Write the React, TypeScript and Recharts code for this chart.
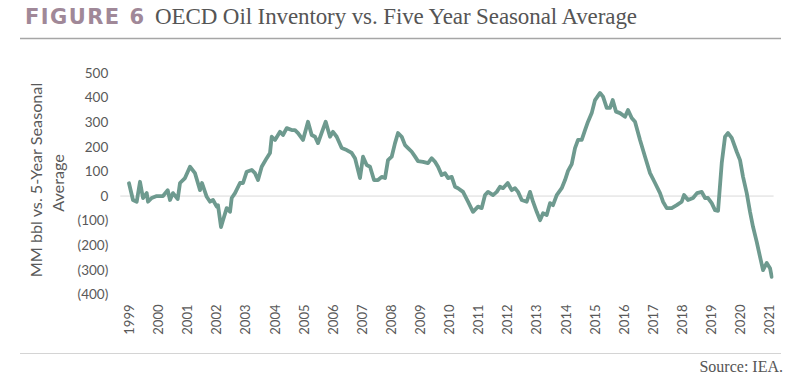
import React from "react";
import { LineChart, Line, XAxis, YAxis, ReferenceLine } from "recharts";

// Decimal-year dates of the readings
const dates: number[] = [
  1999.0, 1999.137, 1999.265, 1999.378, 1999.481, 1999.608, 1999.653, 1999.78, 1999.952,
  2000.168, 2000.33, 2000.409, 2000.512, 2000.674, 2000.753, 2000.924,
  2001.096, 2001.268, 2001.44, 2001.509, 2001.67, 2001.784, 2001.887,
  2002.014, 2002.058, 2002.162, 2002.23, 2002.357, 2002.471, 2002.529, 2002.643, 2002.814, 2002.918,
  2003.045, 2003.216, 2003.33, 2003.433, 2003.56, 2003.732, 2003.845, 2003.904,
  2004.017, 2004.189, 2004.292, 2004.419, 2004.591, 2004.704, 2004.808, 2004.979,
  2005.151, 2005.278, 2005.392, 2005.495, 2005.632, 2005.759, 2005.907,
  2006.01, 2006.137, 2006.309, 2006.481, 2006.653, 2006.766, 2006.938,
  2007.041, 2007.168, 2007.282, 2007.419, 2007.557, 2007.684, 2007.797, 2007.9,
  2008.027, 2008.141, 2008.244, 2008.371, 2008.485, 2008.588, 2008.715, 2008.83, 2008.931,
  2009.103, 2009.275, 2009.402, 2009.515, 2009.619, 2009.746, 2009.859, 2009.962,
  2010.089, 2010.203, 2010.306, 2010.478, 2010.649, 2010.821, 2010.993,
  2011.12, 2011.234, 2011.337, 2011.509, 2011.636, 2011.749, 2011.852,
  2012.014, 2012.151, 2012.265, 2012.368, 2012.495, 2012.667, 2012.78, 2012.883,
  2013.01, 2013.124, 2013.227, 2013.354, 2013.467, 2013.57, 2013.698, 2013.869, 2013.983,
  2014.086, 2014.213, 2014.326, 2014.43, 2014.557, 2014.67, 2014.773, 2014.9,
  2015.014, 2015.186, 2015.289, 2015.416, 2015.529, 2015.622, 2015.735, 2015.873,
  2016.045, 2016.148, 2016.275, 2016.388, 2016.56, 2016.732, 2016.904,
  2017.076, 2017.247, 2017.351, 2017.478, 2017.649, 2017.821, 2017.993,
  2018.072, 2018.21, 2018.381, 2018.519, 2018.68, 2018.794, 2018.897,
  2019.024, 2019.137, 2019.241, 2019.368, 2019.481, 2019.584, 2019.711, 2019.883, 2019.997,
  2020.1, 2020.227, 2020.34, 2020.443, 2020.57, 2020.684, 2020.787, 2020.914,
  2021.027, 2021.086,
];

// MM bbl vs. 5-year seasonal average
const inventoryVsAvg: number[] = [
  52, -16, -23, 58, -8, 12, -23, -8, 0,
  0, 24, -16, 12, -12, 53, 73,
  119, 93, 24, 53, -3, -23, -16,
  -43, -37, -126, -98, -49, -64, -8, 12, 53, 53,
  99, 106, 93, 65, 119, 154, 175, 241,
  228, 261, 248, 276, 268, 268, 256, 228,
  302, 248, 241, 215, 261, 302, 241,
  261, 241, 195, 187, 175, 154, 73,
  160, 126, 119, 65, 65, 78, 73, 146,
  160, 215, 256, 241, 207, 195, 180, 160, 142,
  139, 134, 154, 139, 119, 85, 93, 73,
  78, 38, 32, 17, -23, -64, -43,
  -49, 4, 17, 4, 17, 38, 32,
  53, 24, 32, 17, -16, -23, 17, -23,
  -64, -98, -70, -77, -29, -37, 4, 32, 65,
  102, 130, 195, 228, 228, 268, 302, 337,
  390, 419, 404, 358, 358, 390, 343, 337,
  322, 350, 317, 302, 228, 160, 93,
  53, 12, -23, -49, -49, -37, -23,
  4, -16, -8, 12, 17, -8, -8,
  -29, -57, -60, 134, 241, 256, 236, 180, 146,
  78, 12, -64, -125, -186, -247, -301, -272,
  -293, -328,
];

const yearTicks: number[] = [
  1999, 2000, 2001, 2002, 2003, 2004, 2005, 2006, 2007, 2008, 2009, 2010,
  2011, 2012, 2013, 2014, 2015, 2016, 2017, 2018, 2019, 2020, 2021,
];
const valueTicks: number[] = [-400, -300, -200, -100, 0, 100, 200, 300, 400, 500];

const data = dates.map((t, i) => ({ t, v: inventoryVsAvg[i] }));

const fmtY = (v: number) => (v < 0 ? `(${-v})` : `${v}`);

const XTick = (props: any) => {
  const { x, y, payload } = props;
  return (
    <text
      x={x}
      y={y}
      transform={`rotate(-90 ${x} ${y})`}
      textAnchor="end"
      dominantBaseline="central"
      fill="#595959"
      fontSize={13}
      fontFamily="Lato, 'Open Sans', sans-serif"
    >
      {payload.value}
    </text>
  );
};

export default function App() {
  return (
    <div style={{ position: "absolute", left: 0, top: 0, width: 798, height: 382, background: "#fff" }}>
      <LineChart
        width={798}
        height={382}
        data={data}
        margin={{ top: 73, right: 24.4, bottom: 47.5, left: 20 }}
      >
        <XAxis
          dataKey="t"
          type="number"
          domain={[1998.7, 2021.15]}
          ticks={yearTicks}
          allowDataOverflow
          axisLine={false}
          tickLine={false}
          tickSize={6}
          tickMargin={4}
          height={40}
          tick={<XTick />}
          interval={0}
        />
        <YAxis
          type="number"
          domain={[-400, 500]}
          ticks={valueTicks}
          allowDataOverflow
          axisLine={false}
          tickLine={false}
          tickSize={6}
          tickMargin={6}
          width={100.27}
          interval={0}
          tickFormatter={fmtY}
          tick={{ fill: "#595959", fontSize: 13.5, fontFamily: "Lato, 'Open Sans', sans-serif" }}
        />
        <ReferenceLine y={0} stroke="#d9d9d9" strokeWidth={1} />
        <Line
          type="linear"
          dataKey="v"
          stroke="#6e9a8f"
          strokeWidth={3.8}
          strokeLinejoin="round"
          strokeLinecap="round"
          dot={false}
          activeDot={false}
          isAnimationActive={false}
        />
      </LineChart>
      <svg
        width={798}
        height={382}
        style={{ position: "absolute", left: 0, top: 0, pointerEvents: "none" }}
      >
        <text
          x={25}
          y={24}
          fill="#a08898"
          fontSize={21}
          fontWeight="bold"
          fontFamily="'DejaVu Sans', sans-serif"
          textLength={119}
          lengthAdjust="spacing"
        >
          FIGURE 6
        </text>
        <text
          x={155}
          y={24}
          fill="#555555"
          fontSize={23}
          fontFamily="'Liberation Serif', serif"
          textLength={482}
          lengthAdjust="spacing"
        >
          OECD Oil Inventory vs. Five Year Seasonal Average
        </text>
        <line x1={20} x2={781} y1={38.5} y2={38.5} stroke="#a6a6a6" strokeWidth={1.5} />
        <text
          x={42}
          y={180}
          transform="rotate(-90 42 180)"
          textAnchor="middle"
          fill="#595959"
          fontSize={16.2}
          fontFamily="Lato, 'Open Sans', sans-serif"
        >
          MM bbl vs. 5-Year Seasonal
        </text>
        <text
          x={64}
          y={183}
          transform="rotate(-90 64 183)"
          textAnchor="middle"
          fill="#595959"
          fontSize={16.2}
          fontFamily="Lato, 'Open Sans', sans-serif"
        >
          Average
        </text>
        <line x1={20} x2={781} y1={353.5} y2={353.5} stroke="#d4d4d4" strokeWidth={1} />
        <text
          x={783}
          y={372}
          textAnchor="end"
          fill="#555555"
          fontSize={16}
          fontFamily="'Liberation Serif', serif"
        >
          Source: IEA.
        </text>
      </svg>
    </div>
  );
}
